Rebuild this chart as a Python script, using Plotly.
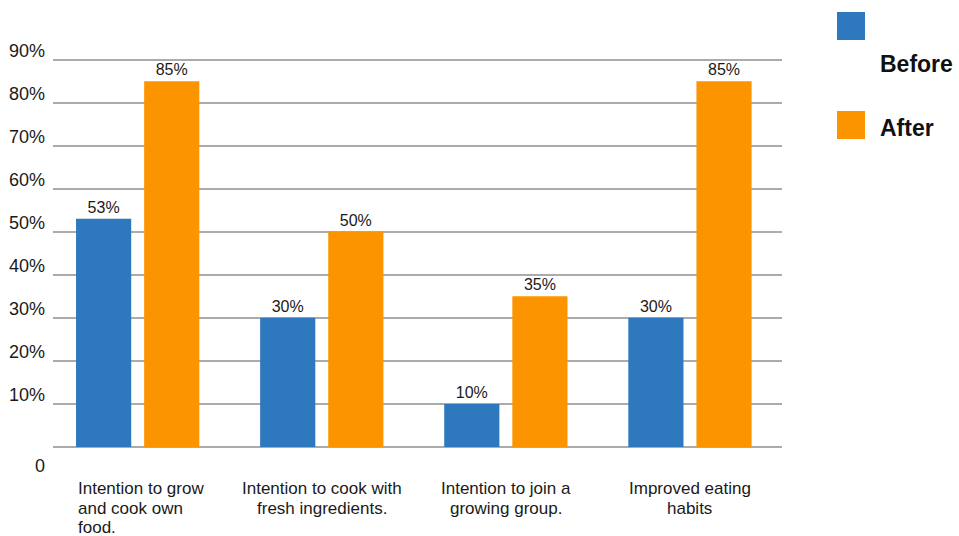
import plotly.graph_objects as go

# Survey results: share of participants before and after the programme
categories = [
    "Intention to grow and cook own food.",
    "Intention to cook with fresh ingredients.",
    "Intention to join a growing group.",
    "Improved eating habits",
]
category_lines = [
    ["Intention to grow", "and cook own", "food."],
    ["Intention to cook with", "fresh ingredients."],
    ["Intention to join a", "growing group."],
    ["Improved eating", "habits"],
]
category_align = ["left", "center", "center", "center"]

before = [53, 30, 10, 30]
after = [85, 50, 35, 85]

y_ticks = [0, 10, 20, 30, 40, 50, 60, 70, 80, 90]
y_tick_labels = ["0", "10%", "20%", "30%", "40%", "50%", "60%", "70%", "80%", "90%"]

series_names = ["Before", "After"]
BLUE = "#2e78bd"
ORANGE = "#fc9400"
GRID = "#ababab"
TEXT = "#1a1a1a"
FONT = "Liberation Sans, Arial, sans-serif"

W, H = 959, 536
M_L, M_R, M_T, M_B = 53, 177, 51, 89
PLOT_W = W - M_L - M_R
PLOT_H = H - M_T - M_B


def px_x(px):
    """Pixel column -> paper x."""
    return (px - M_L) / PLOT_W


def px_y(py):
    """Pixel row -> paper y."""
    return (H - M_B - py) / PLOT_H


x_idx = list(range(len(categories)))

fig = go.Figure()
for name, vals, col in [(series_names[0], before, BLUE), (series_names[1], after, ORANGE)]:
    fig.add_trace(go.Bar(
        x=x_idx, y=vals, name=name,
        marker=dict(color=col, line=dict(width=0)),
        text=[f"{v}%" for v in vals],
        textposition="outside",
        textfont=dict(family=FONT, size=16, color=TEXT),
        cliponaxis=False,
        showlegend=False,
    ))

annotations = []

# y tick labels sit slightly above their grid lines; the zero label sits below the baseline
for v, lab in zip(y_ticks, y_tick_labels):
    annotations.append(dict(
        xref="paper", yref="y", x=0, y=v, xanchor="right", yanchor="middle",
        xshift=-6, yshift=(-19 if v == 0 else 9),
        text=lab, showarrow=False,
        font=dict(family=FONT, size=18, color=TEXT),
    ))

# category labels, one annotation per text line
group_half = 0.334
for i, (lines, al) in enumerate(zip(category_lines, category_align)):
    for j, line in enumerate(lines):
        annotations.append(dict(
            xref="x", yref="paper",
            x=(i - group_half) if al == "left" else i,
            y=0, xanchor=al, yanchor="top",
            yshift=-30 - 19.5 * j,
            text=line, showarrow=False,
            font=dict(family=FONT, size=17, color=TEXT),
        ))

# legend drawn as swatches with bold labels
shapes = []
legend_items = [
    (series_names[0], BLUE, 12, 64),
    (series_names[1], ORANGE, 111, 128),
]
for name, col, sw_top, text_mid in legend_items:
    shapes.append(dict(
        type="rect", xref="paper", yref="paper",
        x0=px_x(837), x1=px_x(865), y0=px_y(sw_top + 28), y1=px_y(sw_top),
        fillcolor=col, line=dict(width=0),
    ))
    annotations.append(dict(
        xref="paper", yref="paper", x=px_x(878), y=px_y(text_mid),
        xanchor="left", yanchor="middle", text=f"<b>{name}</b>",
        showarrow=False, font=dict(family=FONT, size=23, color="#111111"),
    ))

fig.update_layout(
    width=W, height=H,
    margin=dict(l=M_L, r=M_R, t=M_T, b=M_B, pad=0),
    paper_bgcolor="white", plot_bgcolor="white",
    barmode="group", bargap=0.26, bargroupgap=0.19,
    annotations=annotations, shapes=shapes,
    showlegend=False,
    xaxis=dict(
        type="linear", range=[-0.46, 3.5],
        showticklabels=False, showgrid=False, zeroline=False,
        showline=False, ticks="",
    ),
    yaxis=dict(
        range=[0, 92], tickvals=y_ticks, showticklabels=False,
        showgrid=True, gridcolor=GRID, gridwidth=1.5,
        zeroline=True, zerolinecolor=GRID, zerolinewidth=1.5,
        showline=False, ticks="",
    ),
)

fig.write_html("out.html")
